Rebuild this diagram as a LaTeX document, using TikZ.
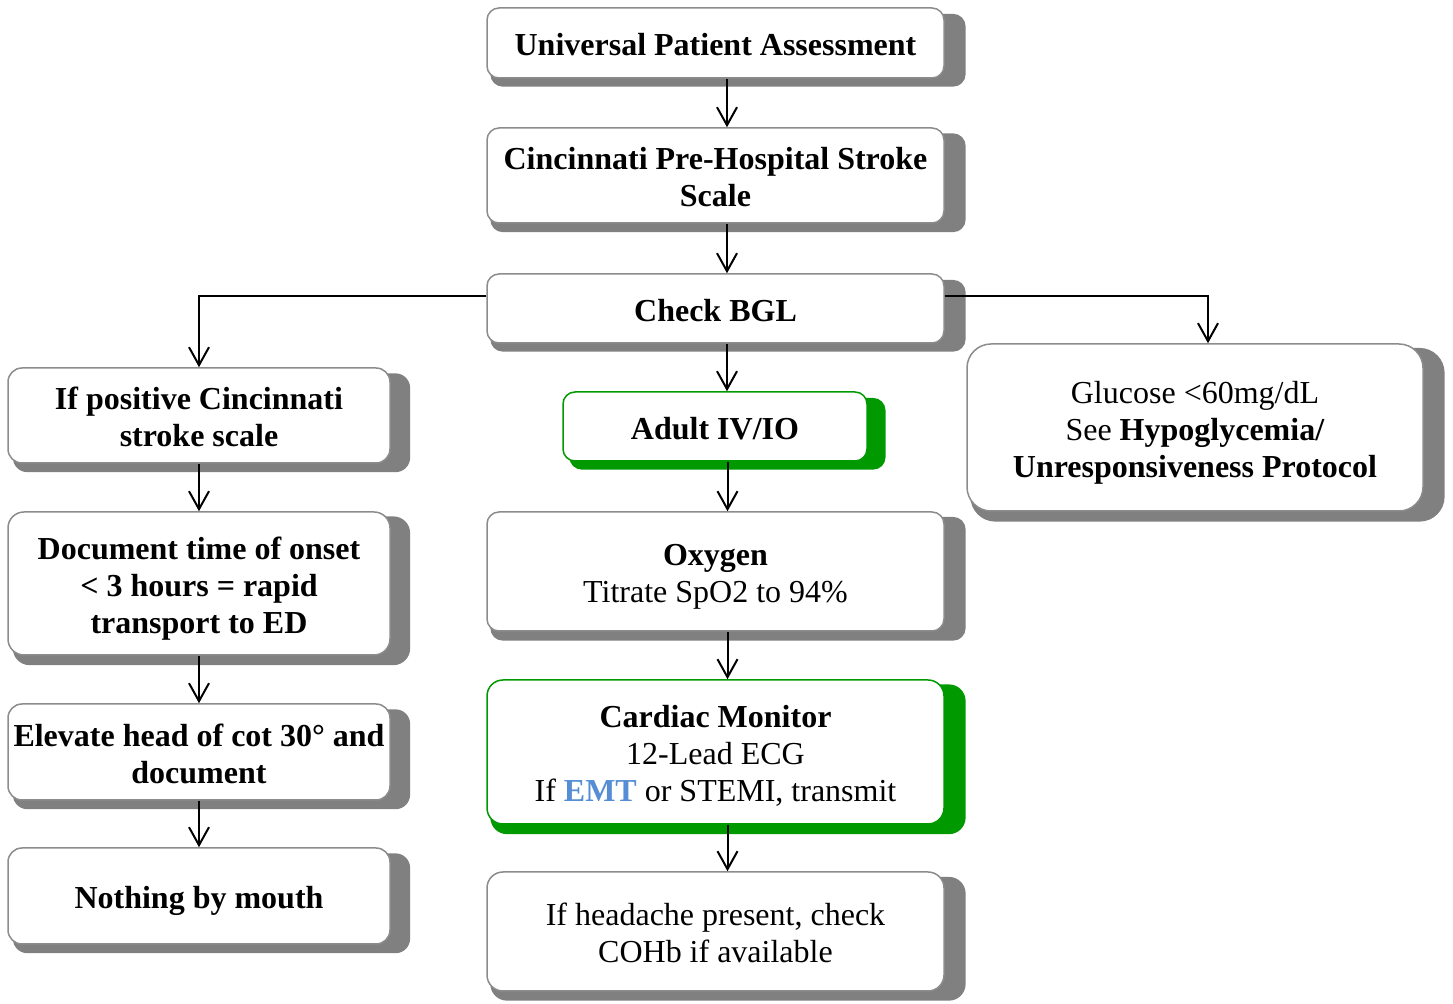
\documentclass[tikz,border=0pt]{standalone}
\usepackage{fontspec}
\setmainfont{Liberation Serif}
\usetikzlibrary{arrows.meta,shadows}
\definecolor{shgray}{HTML}{808080}
\definecolor{bdgray}{HTML}{8C8C8C}
\definecolor{grn}{HTML}{009900}
\definecolor{emtblue}{HTML}{558ED5}
\newcommand\lnfirst{\rule[-3.9pt]{0pt}{20.6pt}}
\newcommand\lnshim{\rule[-3.9pt]{0pt}{18.6pt}}
\begin{document}
\begin{tikzpicture}[x=0.5pt,y=-0.5pt,
  basebox/.style={line width=0.75pt, fill=white, rounded corners=6pt, align=center,
    inner sep=0pt, font=\fontsize{16}{18.6}\selectfont},
  box/.style={basebox, draw=bdgray,
    general shadow={fill=shgray, shadow xshift=6pt, shadow yshift=-3.5pt, shadow scale=1.04}},
  gbox/.style={basebox, draw=grn,
    general shadow={fill=grn, shadow xshift=6pt, shadow yshift=-3.5pt, shadow scale=1.04}},
  arr/.style={draw=black, line width=1pt, -{Straight Barb[length=9pt,width=10pt]}}
]
\useasboundingbox (0,0) rectangle (1453,1004);

% centre column
\node[box, minimum width=228.5pt, minimum height=35pt] (upa) at (715.5,43)
  {\lnfirst\textbf{Universal Patient Assessment}};
\node[box, minimum width=228.5pt, minimum height=47.5pt] (cps) at (715.5,175.5)
  {\lnfirst\textbf{Cincinnati Pre-Hospital Stroke}\\\lnshim\textbf{Scale}};
\node[box, minimum width=228.5pt, minimum height=34.5pt] (bgl) at (715.5,308.5)
  {\lnfirst\textbf{Check BGL}};
\node[gbox, minimum width=152pt, minimum height=34.5pt] (iv) at (715,426.5)
  {\lnfirst\textbf{Adult IV/IO}};
\node[box, minimum width=228.5pt, minimum height=59.5pt] (oxy) at (715.5,571.5)
  {\lnfirst\textbf{Oxygen}\\\lnshim Titrate SpO2 to 94\%};
\node[gbox, minimum width=228.5pt, minimum height=72pt, rounded corners=8pt] (card) at (715.5,752)
  {\lnfirst\textbf{Cardiac Monitor}\\\lnshim 12-Lead ECG\\\lnshim If \textcolor{emtblue}{\textbf{EMT}} or STEMI, transmit};
\node[box, minimum width=228.5pt, minimum height=59.5pt, rounded corners=8pt] (head) at (715.5,931.5)
  {\lnfirst If headache present, check\\\lnshim COHb if available};

% left column
\node[box, minimum width=191pt, minimum height=47.5pt, rounded corners=7pt] (pos) at (199,415.5)
  {\lnfirst\textbf{If positive Cincinnati}\\\lnshim\textbf{stroke scale}};
\node[box, minimum width=191pt, minimum height=71.5pt, rounded corners=8pt] (doc) at (199,583.5)
  {\lnfirst\textbf{Document time of onset}\\\lnshim\textbf{< 3 hours = rapid}\\\lnshim\textbf{transport to ED}};
\node[box, minimum width=191pt, minimum height=48pt, rounded corners=7pt] (elev) at (199,752)
  {\lnfirst\textbf{Elevate head of cot 30° and}\\\lnshim\textbf{document}};
\node[box, minimum width=191pt, minimum height=48pt, rounded corners=7pt] (npo) at (199,896)
  {\lnfirst\textbf{Nothing by mouth}};

% right
\node[box, minimum width=228pt, minimum height=83.5pt, rounded corners=12pt] (glu) at (1195,427.5)
  {\lnfirst Glucose <60mg/dL\\\lnshim See \textbf{Hypoglycemia/}\\\lnshim\textbf{Unresponsiveness Protocol}};

% connectors
\draw[arr] ([xshift=5.75pt]upa.south) -- ([xshift=5.75pt]upa.south |- cps.north);
\draw[arr] ([xshift=5.75pt]cps.south) -- ([xshift=5.75pt]cps.south |- bgl.north);
\draw[arr] ([xshift=5.75pt]bgl.south) -- ([xshift=5.75pt]bgl.south |- iv.north);
\draw[arr] ([xshift=6.25pt]iv.south) -- ([xshift=6.25pt]iv.south |- oxy.north);
\draw[arr] ([xshift=6pt]oxy.south) -- ([xshift=6pt]oxy.south |- card.north);
\draw[arr] ([xshift=6pt]card.south) -- ([xshift=6pt]card.south |- head.north);

\draw[arr] ([yshift=6.25pt]bgl.west) -| (pos.north);
\draw[arr] ([yshift=6.25pt]bgl.east) -| ([xshift=6.5pt]glu.north);

\draw[arr] (pos.south) -- (doc.north);
\draw[arr] (doc.south) -- (elev.north);
\draw[arr] (elev.south) -- (npo.north);
\end{tikzpicture}
\end{document}
